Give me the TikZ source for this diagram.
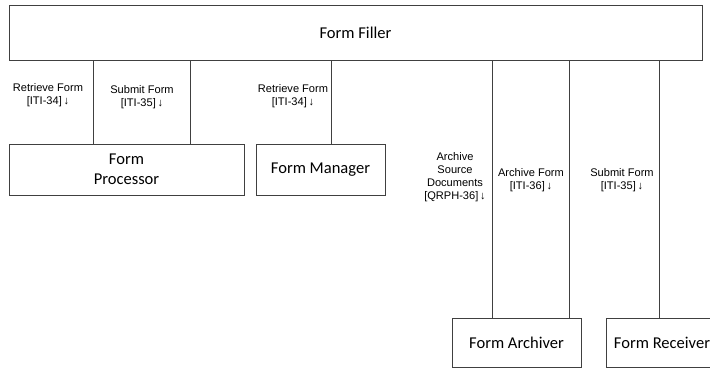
\documentclass[tikz,border=0pt]{standalone}
\usepackage{fontspec}
\setmainfont{Carlito}
\newfontfamily\lblfont{Liberation Sans}
\usepackage{xcolor}

\tikzset{
  actor/.style={draw=black!75, line width=0.75pt, inner sep=0pt, align=center,
    font=\fontsize{12.4}{15}\selectfont},
  txlabel/.style={inner sep=0.75pt, align=center,
    font=\lblfont\fontsize{8.3}{9.8}\selectfont},
  link/.style={draw=black!75, line width=0.75pt}
}

\begin{document}
\begin{tikzpicture}[x=0.75pt,y=0.75pt,yscale=-1]
        \useasboundingbox (0,0) rectangle (710,368);

        %Shape: Rectangle [id:filler]
        \node[actor, minimum width=519.75pt, minimum height=41.25pt] (filler) at (355.5,32.5) {Form Filler};
        %Shape: Rectangle [id:proc]
        \node[actor, minimum width=176.25pt, minimum height=38.25pt] (proc) at (126.5,169.5) {Form\\Processor};
        %Shape: Rectangle [id:mgr]
        \node[actor, minimum width=96.75pt, minimum height=38.25pt] (mgr) at (320.5,169.5) {Form Manager};
        %Shape: Rectangle [id:arch]
        \node[actor, minimum width=96.75pt, minimum height=36.75pt] (arch) at (516.5,343) {Form Archiver};
        %Shape: Rectangle [id:recv]
        \node[actor, minimum width=84pt, minimum height=36.75pt] (recv) at (662,343) {Form Receiver};

        %Straight Lines [id:c1..c6]
        \coordinate (c1) at (93,0);
        \coordinate (c2) at (190,0);
        \coordinate (c3) at (331,0);
        \coordinate (c4) at (492,0);
        \coordinate (c5) at (569,0);
        \coordinate (c6) at (659,0);
        \draw[link] (filler.south -| c1) -- (proc.north -| c1) ;
        \draw[link] (filler.south -| c2) -- (proc.north -| c2) ;
        \draw[link] (filler.south -| c3) -- (mgr.north -| c3) ;
        \draw[link] (filler.south -| c4) -- (arch.north -| c4) ;
        \draw[link] (filler.south -| c5) -- (arch.north -| c5) ;
        \draw[link] (filler.south -| c6) -- (recv.north -| c6) ;

        % Text Node
        \node[txlabel] (rf1) at (48,95) {Retrieve Form\\{[}ITI-34{]}\,↓};
        % Text Node
        \node[txlabel] (sf1) at (142,97.5) {Submit Form\\{[}ITI-35{]}\,↓};
        % Text Node
        \node[txlabel] (rf2) at (293,96) {Retrieve Form\\{[}ITI-34{]}\,↓};
        % Text Node
        \node[txlabel] (asd) at (455,177.5) {Archive\\Source\\Documents\\{[}QRPH-36{]}\,↓};
        % Text Node
        \node[txlabel] (af) at (531,180) {Archive Form\\{[}ITI-36{]}\,↓};
        % Text Node
        \node[txlabel] (sf2) at (622,180) {Submit Form\\{[}ITI-35{]}\,↓};

\end{tikzpicture}
\end{document}
